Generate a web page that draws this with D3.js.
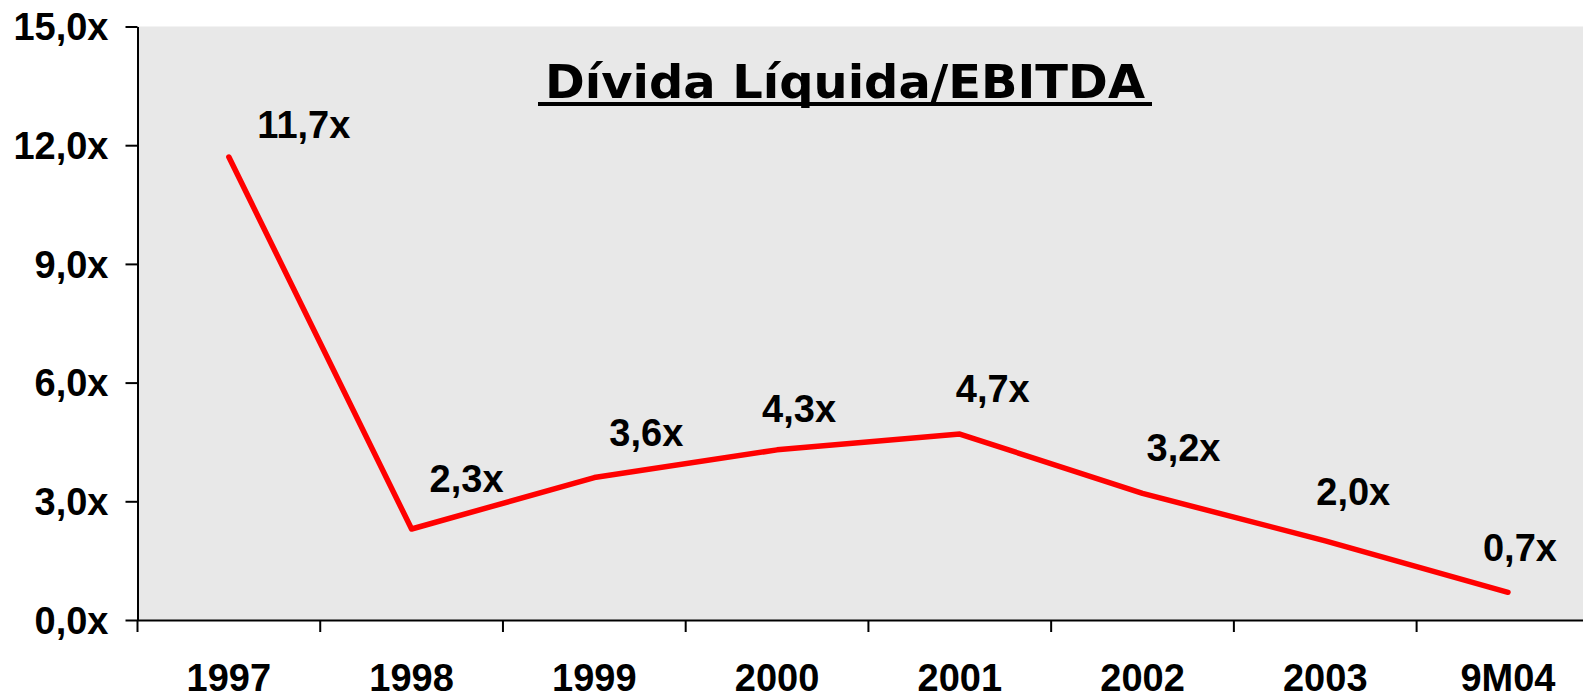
<!DOCTYPE html>
<html>
<head>
<meta charset="utf-8">
<script src="https://cdn.jsdelivr.net/npm/d3@7"></script>
<style>
    html, body { margin: 0; padding: 0; background: #fff; overflow: hidden; }
    svg { display: block; }
</style>
</head>
<body>
<svg id="chart" width="1583" height="694"></svg>
<script>
// chart data
const categories = ['1997', '1998', '1999', '2000', '2001', '2002', '2003', '9M04'];
const ratios = [11.7, 2.3, 3.6, 4.3, 4.7, 3.2, 2.0, 0.7];
const yTicks = [0, 3, 6, 9, 12, 15];
const title = 'Dívida Líquida/EBITDA';

// label nudges (px) relative to each point, as placed in the original
const labelNudge = [[75, -19], [55, -37], [52, -32], [22, -28], [33, -32], [41, -32], [28, -36], [12, -31]];

const width = 1583;
const height = 694;
const margin = { left: 137.5, top: 26.5, bottom: 620 };

const ptBR = d3.formatLocale({ decimal: ',', thousands: '.', grouping: [3], currency: ['R$', ''] });
const fmt = ptBR.format('.1f');

const svg = d3.select('#chart');

// the category axis runs past the right edge of the picture
const x = d3.scaleBand()
    .domain(categories)
    .range([margin.left, margin.left + 182.73 * categories.length]);
const y = d3.scaleLinear()
    .domain([0, 15])
    .range([margin.bottom, margin.top]);

// plot area
svg.append('rect')
    .attr('x', margin.left)
    .attr('y', y(15))
    .attr('width', width - margin.left)
    .attr('height', y(0) - y(15))
    .style('fill', '#e8e8e8');

// y axis
const yAxis = svg.append('g')
    .attr('transform', `translate(${margin.left},0)`)
    .call(d3.axisLeft(y).tickValues(yTicks).tickSize(12).tickSizeOuter(0).tickPadding(17)
        .tickFormat(d => `${fmt(d)}x`));

// x axis, ticks sit on the band edges
const xAxis = svg.append('g')
    .attr('transform', `translate(0,${y(0)})`)
    .call(d3.axisBottom(x).tickSize(0).tickSizeOuter(0).tickPadding(71));

xAxis.selectAll('.edge')
    .data(categories)
    .enter()
    .append('line')
    .attr('class', 'edge')
    .attr('x1', d => x(d))
    .attr('x2', d => x(d))
    .attr('y1', 0)
    .attr('y2', 12);

[yAxis, xAxis].forEach(ax => {
    ax.select('.domain').style('stroke', '#000').style('stroke-width', 2);
    ax.selectAll('line').style('stroke', '#000').style('stroke-width', 2);
    ax.selectAll('text')
        .attr('font-family', 'Liberation Sans, Arial, sans-serif')
        .attr('font-weight', 'bold')
        .attr('font-size', 38)
        .style('fill', '#000');
});
yAxis.selectAll('text').attr('dy', '0.35em');
xAxis.selectAll('text').attr('dy', '0');

// the line
const line = d3.line()
    .x((d, i) => x(categories[i]) + x.bandwidth() / 2)
    .y(d => y(d));

svg.append('path')
    .datum(ratios)
    .attr('d', line)
    .style('fill', 'none')
    .style('stroke', '#ff0000')
    .style('stroke-width', 5.5)
    .style('stroke-linejoin', 'round')
    .style('stroke-linecap', 'round');

// value labels
svg.selectAll('.value')
    .data(ratios)
    .enter()
    .append('text')
    .attr('class', 'value')
    .attr('x', (d, i) => x(categories[i]) + x.bandwidth() / 2 + labelNudge[i][0])
    .attr('y', (d, i) => y(d) + labelNudge[i][1])
    .attr('text-anchor', 'middle')
    .attr('font-family', 'Liberation Sans, Arial, sans-serif')
    .attr('font-weight', 'bold')
    .attr('font-size', 38)
    .style('fill', '#000')
    .text(d => `${fmt(d)}x`);

// title with underline
const titleText = svg.append('text')
    .attr('x', 845)
    .attr('y', 98)
    .attr('text-anchor', 'middle')
    .attr('font-family', 'DejaVu Sans Condensed, DejaVu Sans, sans-serif')
    .attr('font-weight', 'bold')
    .attr('font-size', 46)
    .attr('textLength', 600)
    .attr('lengthAdjust', 'spacingAndGlyphs')
    .style('fill', '#000')
    .text(title);

const tb = titleText.node().getBBox();
svg.append('line')
    .attr('x1', tb.x - 7)
    .attr('x2', tb.x + tb.width + 7)
    .attr('y1', 104)
    .attr('y2', 104)
    .style('stroke', '#000')
    .style('stroke-width', 4);
</script>
</body>
</html>
